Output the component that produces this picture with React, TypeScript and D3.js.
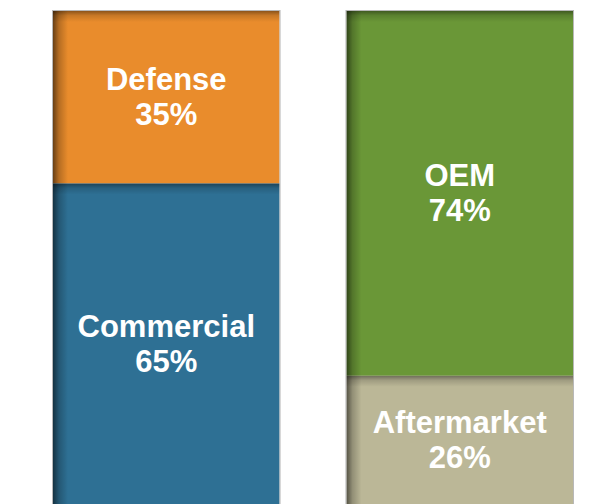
import { useEffect, useRef } from "react";
import * as d3 from "d3";

// two stacked 100% bars
const groups = ["market", "type"];
const marketLabels = ["Defense", "Commercial"];
const marketValues = [35, 65];
const typeLabels = ["OEM", "Aftermarket"];
const typeValues = [74, 26];
const marketColors = ["#e98c2c", "#2e7094"];
const typeColors = ["#6a9737", "#bbb797"];

const W = 596;
const H = 504;

export default function App() {
  const ref = useRef<SVGSVGElement | null>(null);

  useEffect(() => {
    const svg = d3.select(ref.current);
    svg.selectAll("*").remove();

    const x = d3
      .scaleBand()
      .domain(groups)
      .range([53, 573])
      .paddingInner(0.228)
      .paddingOuter(0);

    const y = d3.scaleLinear().domain([0, 100]).range([11, H]);

    const defs = svg.append("defs");
    const left = defs
      .append("linearGradient")
      .attr("id", "shLeft")
      .attr("x1", 0)
      .attr("x2", 1)
      .attr("y1", 0)
      .attr("y2", 0);
    left.append("stop").attr("offset", 0).attr("stop-color", "#000").attr("stop-opacity", 0.55);
    left.append("stop").attr("offset", 0.4).attr("stop-color", "#000").attr("stop-opacity", 0.22);
    left.append("stop").attr("offset", 1).attr("stop-color", "#000").attr("stop-opacity", 0);
    const top = defs
      .append("linearGradient")
      .attr("id", "shTop")
      .attr("x1", 0)
      .attr("x2", 0)
      .attr("y1", 0)
      .attr("y2", 1);
    top.append("stop").attr("offset", 0).attr("stop-color", "#000").attr("stop-opacity", 0.4);
    top.append("stop").attr("offset", 0.4).attr("stop-color", "#000").attr("stop-opacity", 0.15);
    top.append("stop").attr("offset", 1).attr("stop-color", "#000").attr("stop-opacity", 0);

    const series = [
      { key: "market", labels: marketLabels, values: marketValues, colors: marketColors },
      { key: "type", labels: typeLabels, values: typeValues, colors: typeColors },
    ];

    series.forEach((s) => {
      const x0 = x(s.key) as number;
      const bw = x.bandwidth();
      const g = svg.append("g");
      let cum = 0;
      s.values.forEach((v, i) => {
        const y0 = y(cum);
        const y1 = y(cum + v);
        cum += v;
        g.append("rect")
          .attr("x", x0)
          .attr("y", y0)
          .attr("width", bw)
          .attr("height", y1 - y0)
          .attr("fill", s.colors[i]);
        // inner shadow, left and top
        g.append("rect")
          .attr("x", x0)
          .attr("y", y0)
          .attr("width", 15)
          .attr("height", y1 - y0)
          .attr("fill", "url(#shLeft)");
        g.append("rect")
          .attr("x", x0)
          .attr("y", y0)
          .attr("width", bw)
          .attr("height", 11)
          .attr("fill", "url(#shTop)");

        const cy = (y0 + y1) / 2;
        const t = g
          .append("text")
          .attr("text-anchor", "middle")
          .attr("fill", "#fff")
          .attr("font-family", "'Liberation Sans', Arial, sans-serif")
          .attr("font-weight", "bold")
          .attr("font-size", 31);
        t.append("tspan").attr("x", x0 + bw / 2).attr("y", cy - 7).text(s.labels[i]);
        t.append("tspan").attr("x", x0 + bw / 2).attr("y", cy + 28).text(`${v}%`);
      });
      g.append("rect")
        .attr("x", x0 - 0.5)
        .attr("y", y(0) - 0.5)
        .attr("width", bw + 1)
        .attr("height", y(100) - y(0) + 1)
        .attr("fill", "none")
        .attr("stroke", "#b8b8b8")
        .attr("stroke-width", 1);
    });
  }, []);

  return (
    <svg
      ref={ref}
      width={W}
      height={H}
      style={{ position: "absolute", left: 0, top: 0, background: "#fff" }}
    />
  );
}
